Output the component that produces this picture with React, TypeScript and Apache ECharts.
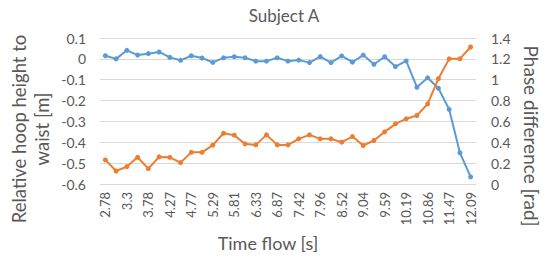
import React, { useEffect, useRef } from "react";
import * as echarts from "echarts";

const times = ["2.78","3.04","3.3","3.54","3.78","4.02","4.27","4.52","4.77","5.03","5.29","5.55","5.81","6.07","6.33","6.6","6.87","7.14","7.42","7.69","7.96","8.24","8.52","8.78","9.04","9.31","9.59","9.89","10.19","10.52","10.86","11.16","11.47","11.78","12.09"];

const hoopHeight = [0.015,0.0,0.041,0.018,0.025,0.033,0.007,-0.007,0.015,0.004,-0.017,0.005,0.01,0.005,-0.011,-0.011,0.005,-0.011,-0.006,-0.018,0.011,-0.018,0.014,-0.016,0.018,-0.026,0.01,-0.037,-0.01,-0.136,-0.091,-0.141,-0.242,-0.45,-0.566];

const phaseDiff = [0.231,0.125,0.167,0.256,0.147,0.26,0.256,0.205,0.304,0.304,0.372,0.487,0.468,0.385,0.375,0.471,0.375,0.375,0.433,0.471,0.433,0.433,0.401,0.455,0.369,0.417,0.5,0.577,0.625,0.657,0.769,1.01,1.2,1.2,1.314];

const FONT = "Lato";
const TXT = "#595959";

export default function App() {
  const ref = useRef<HTMLDivElement>(null);
  useEffect(() => {
    if (!ref.current) return;
    const chart = echarts.init(ref.current, undefined, { renderer: "svg" });
    chart.setOption({
      animation: false,
      textStyle: { fontFamily: FONT },
      title: {
        text: "Subject A",
        left: 279,
        top: 2,
        textAlign: "center",
        textStyle: { fontFamily: FONT, fontSize: 17, fontWeight: "normal", color: TXT },
      },
      grid: { left: 100, right: 73, top: 38, bottom: 73 },
      xAxis: {
        type: "category",
        data: times,
        boundaryGap: true,
        axisLine: { show: false },
        axisTick: { show: false },
        axisLabel: {
          interval: 1,
          rotate: 90,
          fontFamily: FONT,
          fontSize: 13,
          color: TXT,
          margin: 8,
        },
      },
      yAxis: [
        {
          type: "value",
          min: -0.6,
          max: 0.1,
          interval: 0.1,
          axisLine: { show: false },
          axisTick: { show: false },
          splitLine: { lineStyle: { color: "#D9D9D9", width: 1 } },
          axisLabel: {
            fontFamily: FONT,
            fontSize: 14,
            color: TXT,
            margin: 14,
            formatter: (v: number) => String(+v.toFixed(1)),
          },
        },
        {
          type: "value",
          min: 0,
          max: 1.4,
          interval: 0.2,
          axisLine: { show: false },
          axisTick: { show: false },
          splitLine: { show: false },
          axisLabel: {
            fontFamily: FONT,
            fontSize: 14,
            color: TXT,
            margin: 15,
            formatter: (v: number) => String(+v.toFixed(1)),
          },
        },
      ],
      graphic: [
        {
          type: "text",
          x: 30,
          y: 129,
          rotation: Math.PI / 2,
          style: {
            text: "Relative hoop height to\nwaist [m]",
            fontFamily: FONT,
            fontSize: 18.5,
            fill: TXT,
            align: "center",
            verticalAlign: "middle",
            lineHeight: 23,
          },
        },
        {
          type: "text",
          x: 531,
          y: 136,
          rotation: -Math.PI / 2,
          style: {
            text: "Phase difference [rad]",
            fontFamily: FONT,
            fontSize: 19,
            fill: TXT,
            align: "center",
            verticalAlign: "middle",
          },
        },
        {
          type: "text",
          x: 268,
          y: 243,
          style: {
            text: "Time flow [s]",
            fontFamily: FONT,
            fontSize: 18,
            fill: TXT,
            align: "center",
            verticalAlign: "middle",
          },
        },
      ],
      series: [
        {
          name: "Relative hoop height",
          type: "line",
          yAxisIndex: 0,
          data: hoopHeight,
          symbol: "circle",
          symbolSize: 5,
          lineStyle: { color: "#5B9BD5", width: 2 },
          itemStyle: { color: "#5B9BD5" },
        },
        {
          name: "Phase difference",
          type: "line",
          yAxisIndex: 1,
          data: phaseDiff,
          symbol: "circle",
          symbolSize: 5,
          lineStyle: { color: "#ED7D31", width: 2 },
          itemStyle: { color: "#ED7D31" },
        },
      ],
    });
    return () => chart.dispose();
  }, []);
  return (
    <div
      ref={ref}
      style={{ position: "fixed", left: 0, top: 0, width: 549, height: 257, background: "#fff" }}
    />
  );
}
